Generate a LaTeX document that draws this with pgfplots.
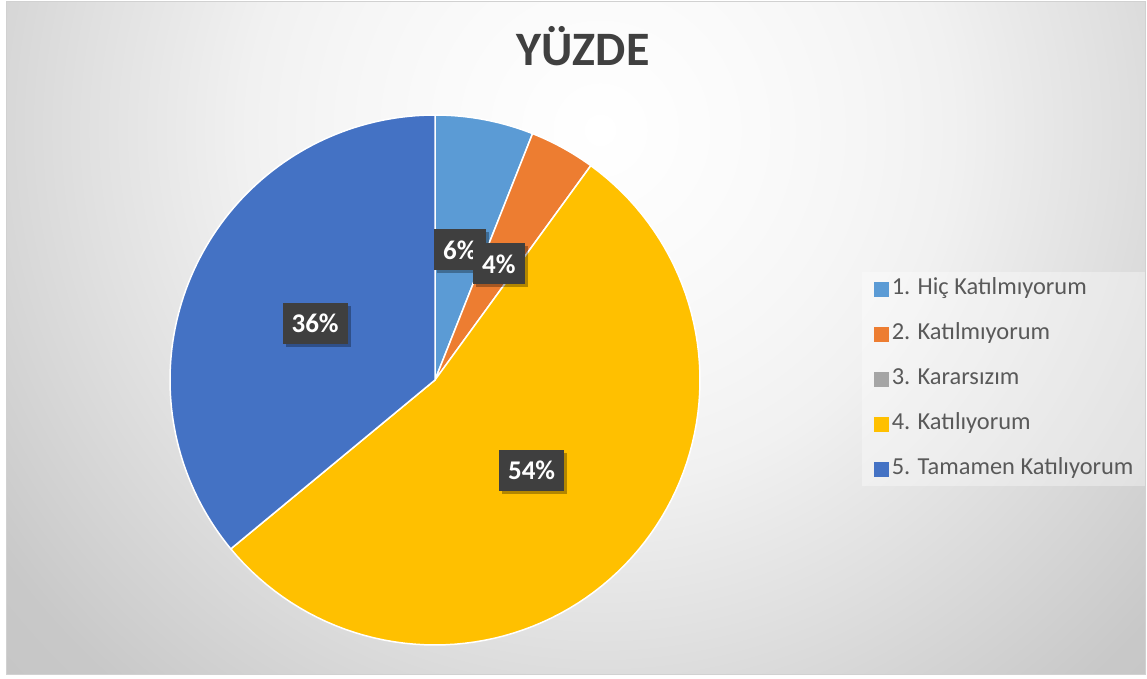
\documentclass[border=0pt]{standalone}
\usepackage{pgfplots}
\pgfplotsset{compat=1.18}
\usepackage{pgfplotstable}
\usepackage{fontspec}
\setmainfont{Carlito}
\usetikzlibrary{shadows}
\definecolor{slice0}{HTML}{5B9BD5}
\definecolor{slice1}{HTML}{ED7D31}
\definecolor{slice2}{HTML}{A5A5A5}
\definecolor{slice3}{HTML}{FFC000}
\definecolor{slice4}{HTML}{4472C4}
\definecolor{lblbg}{HTML}{3F3F3F}
\definecolor{titlec}{HTML}{404040}
\definecolor{legc}{HTML}{595959}
\pgfdeclareradialshading{bgshade}{\pgfpointorigin}{%
  color(0bp)=(white); color(5bp)=(black!2); color(8bp)=(black!3.5); color(11bp)=(black!5.5);
  color(16bp)=(black!12); color(23bp)=(black!21.5); color(35bp)=(black!26); color(50bp)=(black!26)}
\tikzset{lbl/.style={fill=lblbg, text=white, font=\bfseries\fontsize{13.5}{15}\selectfont,
    inner xsep=4.5pt, inner ysep=0pt, minimum height=20.5pt,
    drop shadow={shadow xshift=1.5pt, shadow yshift=-1.5pt, opacity=0.3, fill=black}}}
\pgfplotstableread{
value
6
4
0
54
36
}\piedata
\begin{document}
\begin{tikzpicture}
\begin{scope}[x=0.5pt,y=0.5pt]
\fill[white] (0,0) rectangle (1147,679);
\begin{scope}
\clip (6,4) rectangle (1145,677);
\shade[shading=bgshade] (-200,-251) rectangle (1400,1349);
\end{scope}
\draw[black!18,line width=0.5pt] (6,4) rectangle (1145,677);
\node[anchor=base,font=\bfseries\fontsize{24}{28}\selectfont,text=titlec,inner sep=0pt] at (583,613) {YÜZDE};
\end{scope}
\begin{axis}[
  at={(217.5pt,149.5pt)}, anchor=center,
  width=265pt, height=265pt, scale only axis,
  xmin=-1, xmax=1, ymin=-1, ymax=1,
  hide axis, clip=false,
  legend cell align=left,
  legend style={at={(1.3057,0.7038)}, anchor=north west, draw=none,
    fill=white, fill opacity=0.35, text opacity=1,
    font=\fontsize{12.2}{14}\selectfont, text=legc,
    inner xsep=6pt, inner ysep=3pt, row sep=11.5pt, column sep=1.5pt,
    nodes={inner sep=0pt, text height=8pt, text depth=3pt}},
  legend image code/.code={\fill[#1, draw=none, fill opacity=1] (0pt,-3.6pt) rectangle (7.2pt,3.6pt);},
]
\xdef\cum{0}
\pgfplotsinvokeforeach{0,...,4}{
  \pgfplotstablegetelem{#1}{value}\of\piedata
  \pgfmathsetmacro\v{\pgfplotsretval}
  \pgfmathsetmacro\a{90-3.6*(\cum+\v)}
  \pgfmathsetmacro\b{90-3.6*\cum}
  \pgfmathsetmacro\newcum{\cum+\v}
  \xdef\cum{\newcum}
  \ifdim\v pt>0pt
    \edef\temp{\noexpand\addplot[fill=slice#1, draw=white, line width=0.75pt, domain=\a:\b, samples=90, variable=\noexpand\t, forget plot] ({cos(\noexpand\t)},{sin(\noexpand\t)}) -- (axis cs:0,0) -- cycle;}
    \temp
  \fi
}
\xdef\cum{0}
\pgfplotsinvokeforeach{0,...,4}{
  \pgfplotstablegetelem{#1}{value}\of\piedata
  \pgfmathsetmacro\v{\pgfplotsretval}
  \pgfmathtruncatemacro\vi{round(\v)}
  \pgfmathsetmacro\a{90-3.6*(\cum+\v)}
  \pgfmathsetmacro\b{90-3.6*\cum}
  \pgfmathsetmacro\m{(\a+\b)/2}
  \pgfmathsetmacro\lx{0.5*cos(\m)}
  \pgfmathsetmacro\ly{0.5*sin(\m)}
  \pgfmathsetmacro\newcum{\cum+\v}
  \xdef\cum{\newcum}
  \ifdim\v pt>0pt
    \edef\temp{\noexpand\node[lbl] at (axis cs:\lx,\ly) {\vi\noexpand\%};}
    \temp
  \fi
}
\addlegendimage{fill=slice0}\addlegendentry{1. Hiç Katılmıyorum}
\addlegendimage{fill=slice1}\addlegendentry{2. Katılmıyorum}
\addlegendimage{fill=slice2}\addlegendentry{3. Kararsızım}
\addlegendimage{fill=slice3}\addlegendentry{4. Katılıyorum}
\addlegendimage{fill=slice4}\addlegendentry{5. Tamamen Katılıyorum}
\end{axis}
\pgfresetboundingbox
\useasboundingbox (0,0) rectangle (573.5pt,339.5pt);
\end{tikzpicture}
\end{document}
